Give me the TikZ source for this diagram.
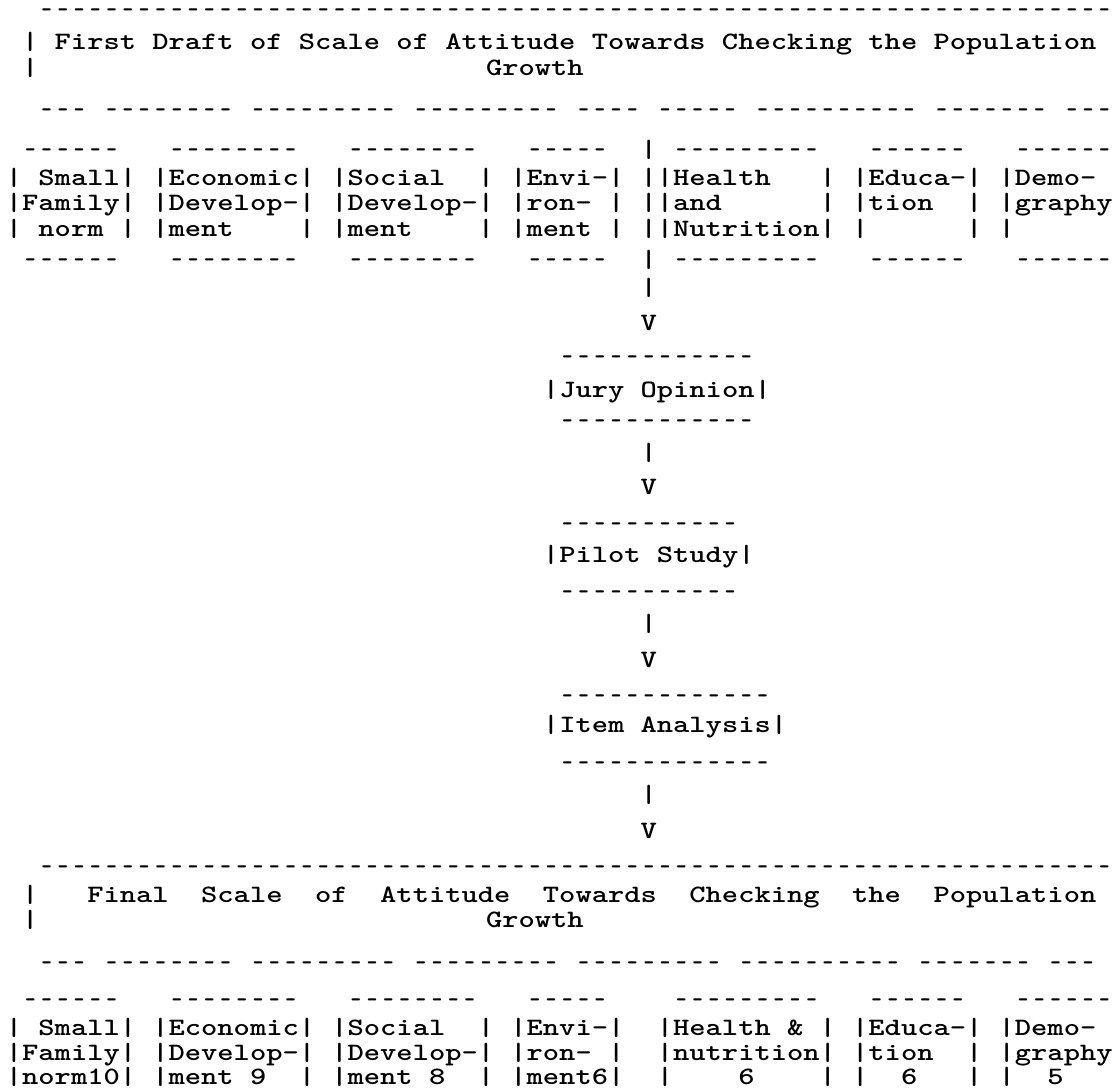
\documentclass[tikz,border=0pt]{standalone}
\usepackage{graphicx}
\newlength{\pitchlen}
\setlength{\pitchlen}{8.1375pt}
\newcommand{\wide}[1]{\scalebox{1.24}[1]{#1}}
\newcommand{\cx}[1]{5.5+16.275*#1}
\newcommand{\dsh}[1]{\foreach \k in {1,...,#1}{\makebox[\pitchlen]{\scalebox{0.8}[1]{-}}}}
\newcommand{\gp}[1]{\hspace*{#1\pitchlen}}
\newcommand{\br}{\makebox[\pitchlen]{\wide{|}}}
\begin{document}
\begin{tikzpicture}[x=0.5pt,y=-0.5pt,
  txtrow/.style={inner sep=0pt,anchor=base west,font=\ttfamily\bfseries\fontsize{12.5}{12.5}\selectfont}]
\useasboundingbox [fill=white] (0,0) rectangle (1119,1090);
% first draft
\node[txtrow] (topdash) at ({\cx{2}},18) {\dsh{66}};
\node[txtrow] (ttla) at ({\cx{1}},50) {\wide{|~First Draft of Scale of Attitude Towards Checking the Population}};
\node[txtrow] (ttlbar) at ({\cx{1}},76) {\wide{|}};
\node[txtrow] (ttlb) at ({\cx{29.5}},76) {\wide{Growth}};
\node[txtrow] (splita) at ({\cx{2}},118) {\dsh{3}\gp{1}\dsh{8}\gp{1}\dsh{9}\gp{1}\dsh{9}\gp{1}\dsh{4}\gp{1}\dsh{5}\gp{1}\dsh{10}\gp{1}\dsh{7}\gp{1}\dsh{3}};
\node[txtrow] (boxtopa) at ({\cx{1}},158) {\dsh{6}\gp{3}\dsh{8}\gp{3}\dsh{8}\gp{3}\dsh{5}\gp{2}\br\gp{1}\dsh{9}\gp{3}\dsh{6}\gp{3}\dsh{6}};
\node[txtrow] (rowaa) at ({\cx{0}},186) {\wide{|~Small|~|Economic|~|Social~~|~|Envi-|~||Health~~~|~|Educa-|~|Demo-}};
\node[txtrow] (rowab) at ({\cx{0}},211) {\wide{|Family|~|Develop-|~|Develop-|~|ron-~|~||and~~~~~~|~|tion~~|~|graphy}};
\node[txtrow] (rowac) at ({\cx{0}},237) {\wide{|~norm~|~|ment~~~~|~|ment~~~~|~|ment~|~||Nutrition|~|~~~~~~|~|}};
\node[txtrow] (boxbota) at ({\cx{1}},268) {\dsh{6}\gp{3}\dsh{8}\gp{3}\dsh{8}\gp{3}\dsh{5}\gp{2}\br\gp{1}\dsh{9}\gp{3}\dsh{6}\gp{3}\dsh{6}};
\node[txtrow] (bara) at ({\cx{39}},296) {\wide{|}};
\node[txtrow] (va) at ({\cx{39}},331) {\wide{V}};
% jury opinion
\node[txtrow] (jtop) at ({\cx{34}},365) {\dsh{12}};
\node[txtrow] (jury) at ({\cx{33}},398) {\wide{|Jury Opinion|}};
\node[txtrow] (jbot) at ({\cx{34}},429) {\dsh{12}};
\node[txtrow] (barb) at ({\cx{39}},461) {\wide{|}};
\node[txtrow] (vb) at ({\cx{39}},495) {\wide{V}};
% pilot study
\node[txtrow] (ptop) at ({\cx{34}},532) {\dsh{11}};
\node[txtrow] (pilot) at ({\cx{33}},563) {\wide{|Pilot Study|}};
\node[txtrow] (pbot) at ({\cx{34}},600) {\dsh{11}};
\node[txtrow] (barc) at ({\cx{39}},632) {\wide{|}};
\node[txtrow] (vc) at ({\cx{39}},668) {\wide{V}};
% item analysis
\node[txtrow] (itop) at ({\cx{34}},703) {\dsh{13}};
\node[txtrow] (item) at ({\cx{33}},732) {\wide{|Item Analysis|}};
\node[txtrow] (ibot) at ({\cx{34}},770) {\dsh{13}};
\node[txtrow] (bard) at ({\cx{39}},802) {\wide{|}};
\node[txtrow] (vd) at ({\cx{39}},838) {\wide{V}};
% final scale
\node[txtrow] (ftopdash) at ({\cx{2}},874) {\dsh{66}};
\node[txtrow] (fttla) at ({\cx{1}},902) {\wide{|~~~Final~~Scale~~of~~Attitude~~Towards~~Checking~~the~~Population}};
\node[txtrow] (fttlbar) at ({\cx{1}},927) {\wide{|}};
\node[txtrow] (fttlb) at ({\cx{29.5}},927) {\wide{Growth}};
\node[txtrow] (splitb) at ({\cx{2}},970) {\dsh{3}\gp{1}\dsh{8}\gp{1}\dsh{9}\gp{1}\dsh{9}\gp{1}\dsh{9}\gp{1}\dsh{10}\gp{1}\dsh{7}\gp{1}\dsh{3}};
\node[txtrow] (boxtopb) at ({\cx{1}},1007) {\dsh{6}\gp{3}\dsh{8}\gp{3}\dsh{8}\gp{3}\dsh{5}\gp{4}\dsh{9}\gp{3}\dsh{6}\gp{3}\dsh{6}};
\node[txtrow] (rowba) at ({\cx{0}},1035) {\wide{|~Small|~|Economic|~|Social~~|~|Envi-|~~|Health~\&~|~|Educa-|~|Demo-}};
\node[txtrow] (rowbb) at ({\cx{0}},1060) {\wide{|Family|~|Develop-|~|Develop-|~|ron-~|~~|nutrition|~|tion~~|~|graphy}};
\node[txtrow] (rowbc) at ({\cx{0}},1084) {\wide{|norm10|~|ment~9~~|~|ment~8~~|~|ment6|~~|~~~~6~~~~|~|~~6~~~|~|~~5}};
\end{tikzpicture}
\end{document}
